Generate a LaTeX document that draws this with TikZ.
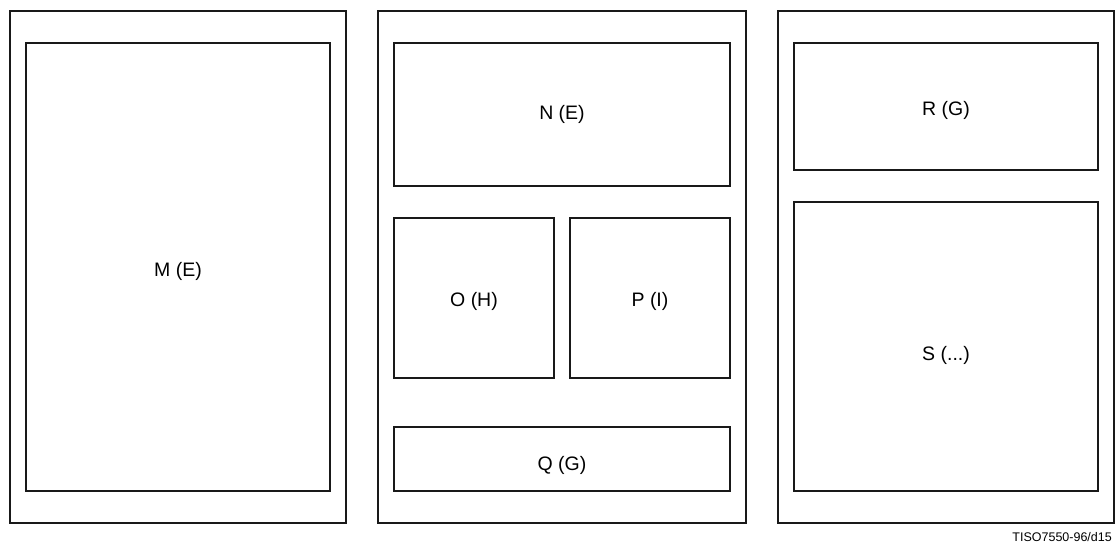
\documentclass[tikz,border=0pt]{standalone}
\usepackage{fontspec}
\setmainfont{Liberation Sans}
\usepackage{tikz}

\begin{document}
\begin{tikzpicture}[x=1pt,y=-1pt,
  box/.style={draw=black!90, line width=1.3pt},
  lbl/.style={font=\fontsize{19.5}{23}\selectfont, inner sep=0pt}]
  \useasboundingbox (0,0) rectangle (1116,548);

  % Outer frames
  \foreach \a/\b in {10/346, 378/746, 778/1114}
    \draw[box] (\a,11) rectangle (\b,523);

  % Left frame
  \draw[box] (26,43) rectangle (330,491);
  \node[lbl] (m) at (178,271) {M (E)};

  % Middle frame
  \draw[box] (394,43) rectangle (730,186);
  \draw[box] (394,218) rectangle (554,378);
  \draw[box] (570,218) rectangle (730,378);
  \draw[box] (394,427) rectangle (730,491);
  \node[lbl] (n) at (562,114) {N (E)};
  \node[lbl] (o) at (474,301) {O (H)};
  \node[lbl] (p) at (650,301) {P (I)};
  \node[lbl] (q) at (562,465) {Q (G)};

  % Right frame
  \draw[box] (794,43) rectangle (1098,170);
  \draw[box] (794,202) rectangle (1098,491);
  \node[lbl] (r) at (946,110) {R (G)};
  \node[lbl] (s) at (946,355) {S (...)};

  % Figure code
  \node[font=\fontsize{12.5}{15}\selectfont, inner sep=0pt, anchor=east] (code) at (1112,537) {TISO7550-96/d15};
\end{tikzpicture}
\end{document}
